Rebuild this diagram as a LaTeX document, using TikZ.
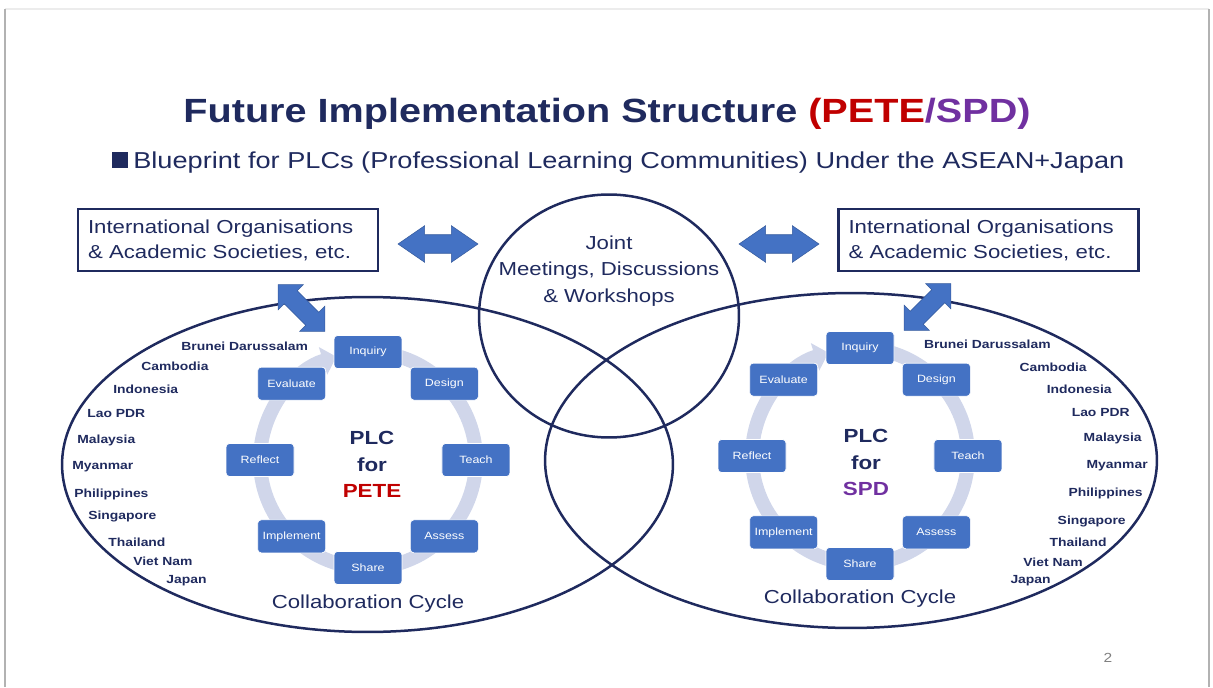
\documentclass[tikz,border=0pt]{standalone}
\usepackage{fontspec}
\setmainfont[FakeStretch=1.18]{Liberation Sans}
\usetikzlibrary{shapes.geometric,shapes.arrows,arrows.meta}

\definecolor{navy}{RGB}{31,42,94}
\definecolor{boxblue}{RGB}{68,114,196}
\definecolor{ringblue}{RGB}{208,214,234}
\definecolor{petered}{RGB}{192,0,0}
\definecolor{spdpurple}{RGB}{112,48,160}

\tikzset{
    stepbox/.style={draw=white,line width=0.4pt,fill=boxblue,rounded corners=0.07cm,
        minimum width=1.36cm,minimum height=0.66cm,inner sep=0pt,
        text=white,font=\fontsize{6}{7}\selectfont},
    ringarc/.style={ringblue,line width=0.28cm,-{Triangle[width=0.56cm,length=0.28cm]}},
    country/.style={text=navy,inner sep=0pt,font=\bfseries\fontsize{6.7}{8}\selectfont},
    orgbox/.style={draw=navy,line width=0.05cm,minimum width=6cm,minimum height=1.24cm,
        text width=5.6cm,align=left,inner sep=0pt,text=navy,font=\fontsize{10.7}{14.2}\selectfont},
    bigoval/.style={ellipse,draw=navy,line width=0.05cm,inner sep=0pt},
    blockarrow/.style={double arrow,fill=boxblue,draw=boxblue!80!black,line width=0.3pt,
        inner xsep=0pt,inner ysep=0.18cm,minimum height=1.6cm,
        double arrow head extend=0.18cm,double arrow tip angle=69},
}

\begin{document}
\begin{tikzpicture}[x=0.02cm,y=0.02cm]
    \useasboundingbox (0,0) rectangle (1213,687);

    % slide edge
    \draw [gray!15,line width=0.03cm] (5,678) -- (1209,678);
    \draw [gray!60,line width=0.04cm] (5,0) -- (5,678);
    \draw [gray!60,line width=0.04cm] (1209,0) -- (1209,678);

    % title
    \node [anchor=base,inner sep=0pt,text=navy,font=\bfseries\fontsize{19.1}{22}\selectfont] (title) at (607,564)
        {Future Implementation Structure \textcolor{petered}{(PETE}\textcolor{spdpurple}{/SPD)}};
    \node [fill=navy,minimum size=0.32cm,inner sep=0pt] (bullet) at (120,527) {};
    \node [anchor=base west,inner sep=0pt,text=navy,font=\fontsize{13.1}{16}\selectfont] (subtitle) at (133,518)
        {Blueprint for PLCs (Professional Learning Communities) Under the ASEAN+Japan};

    % ovals
    \node [bigoval,minimum width=12.22cm,minimum height=6.7cm] (peteoval) at (367.5,222.5) {};
    \node [bigoval,minimum width=12.24cm,minimum height=6.7cm] (spdoval) at (851,226.5) {};
    \node [bigoval,minimum width=5.2cm,minimum height=4.86cm] (joint) at (609,371) {};
    \node [align=center,text=navy,font=\fontsize{10.7}{15.1}\selectfont] (jointtext) at (609,416)
        {Joint\\Meetings, Discussions\\\& Workshops};

    % organisations
    \node [orgbox] (orgL) at (228,447) {International Organisations\\\& Academic Societies, etc.};
    \node [orgbox] (orgR) at (988.5,447) {International Organisations\\\& Academic Societies, etc.};

    % block arrows
    \node [blockarrow] (arrowL) at (438,443) {};
    \node [blockarrow] (arrowR) at (779,443) {};
    \node [blockarrow,minimum height=1.32cm,double arrow head extend=0.17cm,double arrow tip angle=90,rotate=-45] (diagL) at (301.5,379) {};
    \node [blockarrow,minimum height=1.32cm,double arrow head extend=0.17cm,double arrow tip angle=90,rotate=45] (diagR) at (927.5,380) {};

    % cycles
    \coordinate (lc) at (368,227);
    \coordinate (rc) at (860,231);
    \draw [ringarc] (lc) ++(80:2.16cm) arc [start angle=80,end angle=-253,radius=2.16cm];
    \draw [ringarc] (rc) ++(80:2.16cm) arc [start angle=80,end angle=-253,radius=2.16cm];
    \foreach \step/\ang in {Inquiry/90,Design/45,Teach/0,Assess/-45,Share/-90,Implement/-135,Reflect/180,Evaluate/135}
        {\node [stepbox] (l\step) at ([shift={(\ang:2.16cm)}]lc) {\step};
         \node [stepbox] (r\step) at ([shift={(\ang:2.16cm)}]rc) {\step};}

    \node [align=center,text=navy,font=\bfseries\fontsize{10.8}{15.1}\selectfont] (plcL) at (372,222.5)
        {PLC\\for\\\textcolor{petered}{PETE}};
    \node [align=center,text=navy,font=\bfseries\fontsize{10.8}{15.1}\selectfont] (plcR) at (866,224.5)
        {PLC\\for\\\textcolor{spdpurple}{SPD}};
    \node [anchor=base,inner sep=0pt,text=navy,font=\fontsize{10.7}{13}\selectfont] (cycleL) at (368,79) {Collaboration Cycle};
    \node [anchor=base,inner sep=0pt,text=navy,font=\fontsize{10.7}{13}\selectfont] (cycleR) at (860,84) {Collaboration Cycle};

    % member countries
    \foreach \cx/\cy/\cname [count=\i] in {181/337/Brunei Darussalam,141/317/Cambodia,113/294/Indonesia,
            87/270/Lao PDR,77/244/Malaysia,72/218/Myanmar,74/190/Philippines,88/168/Singapore,
            108/141/Thailand,133/122/Viet Nam,166/104/Japan}
        {\node [country,anchor=base west] (cl\i) at (\cx,\cy) {\cname};}
    \foreach \cx/\cy/\cname [count=\i] in {1051/338/Brunei Darussalam,1087/316/Cambodia,1112/294/Indonesia,
            1130/271/Lao PDR,1142/246/Malaysia,1148/219/Myanmar,1143/191/Philippines,1126/163/Singapore,
            1107/141/Thailand,1083/121/Viet Nam,1051/104/Japan}
        {\node [country,anchor=base east] (cr\i) at (\cx,\cy) {\cname};}

    % page number
    \node [anchor=base,inner sep=0pt,text=gray,font=\fontsize{7.5}{9}\selectfont] (pagenum) at (1108,25) {2};
\end{tikzpicture}
\end{document}
